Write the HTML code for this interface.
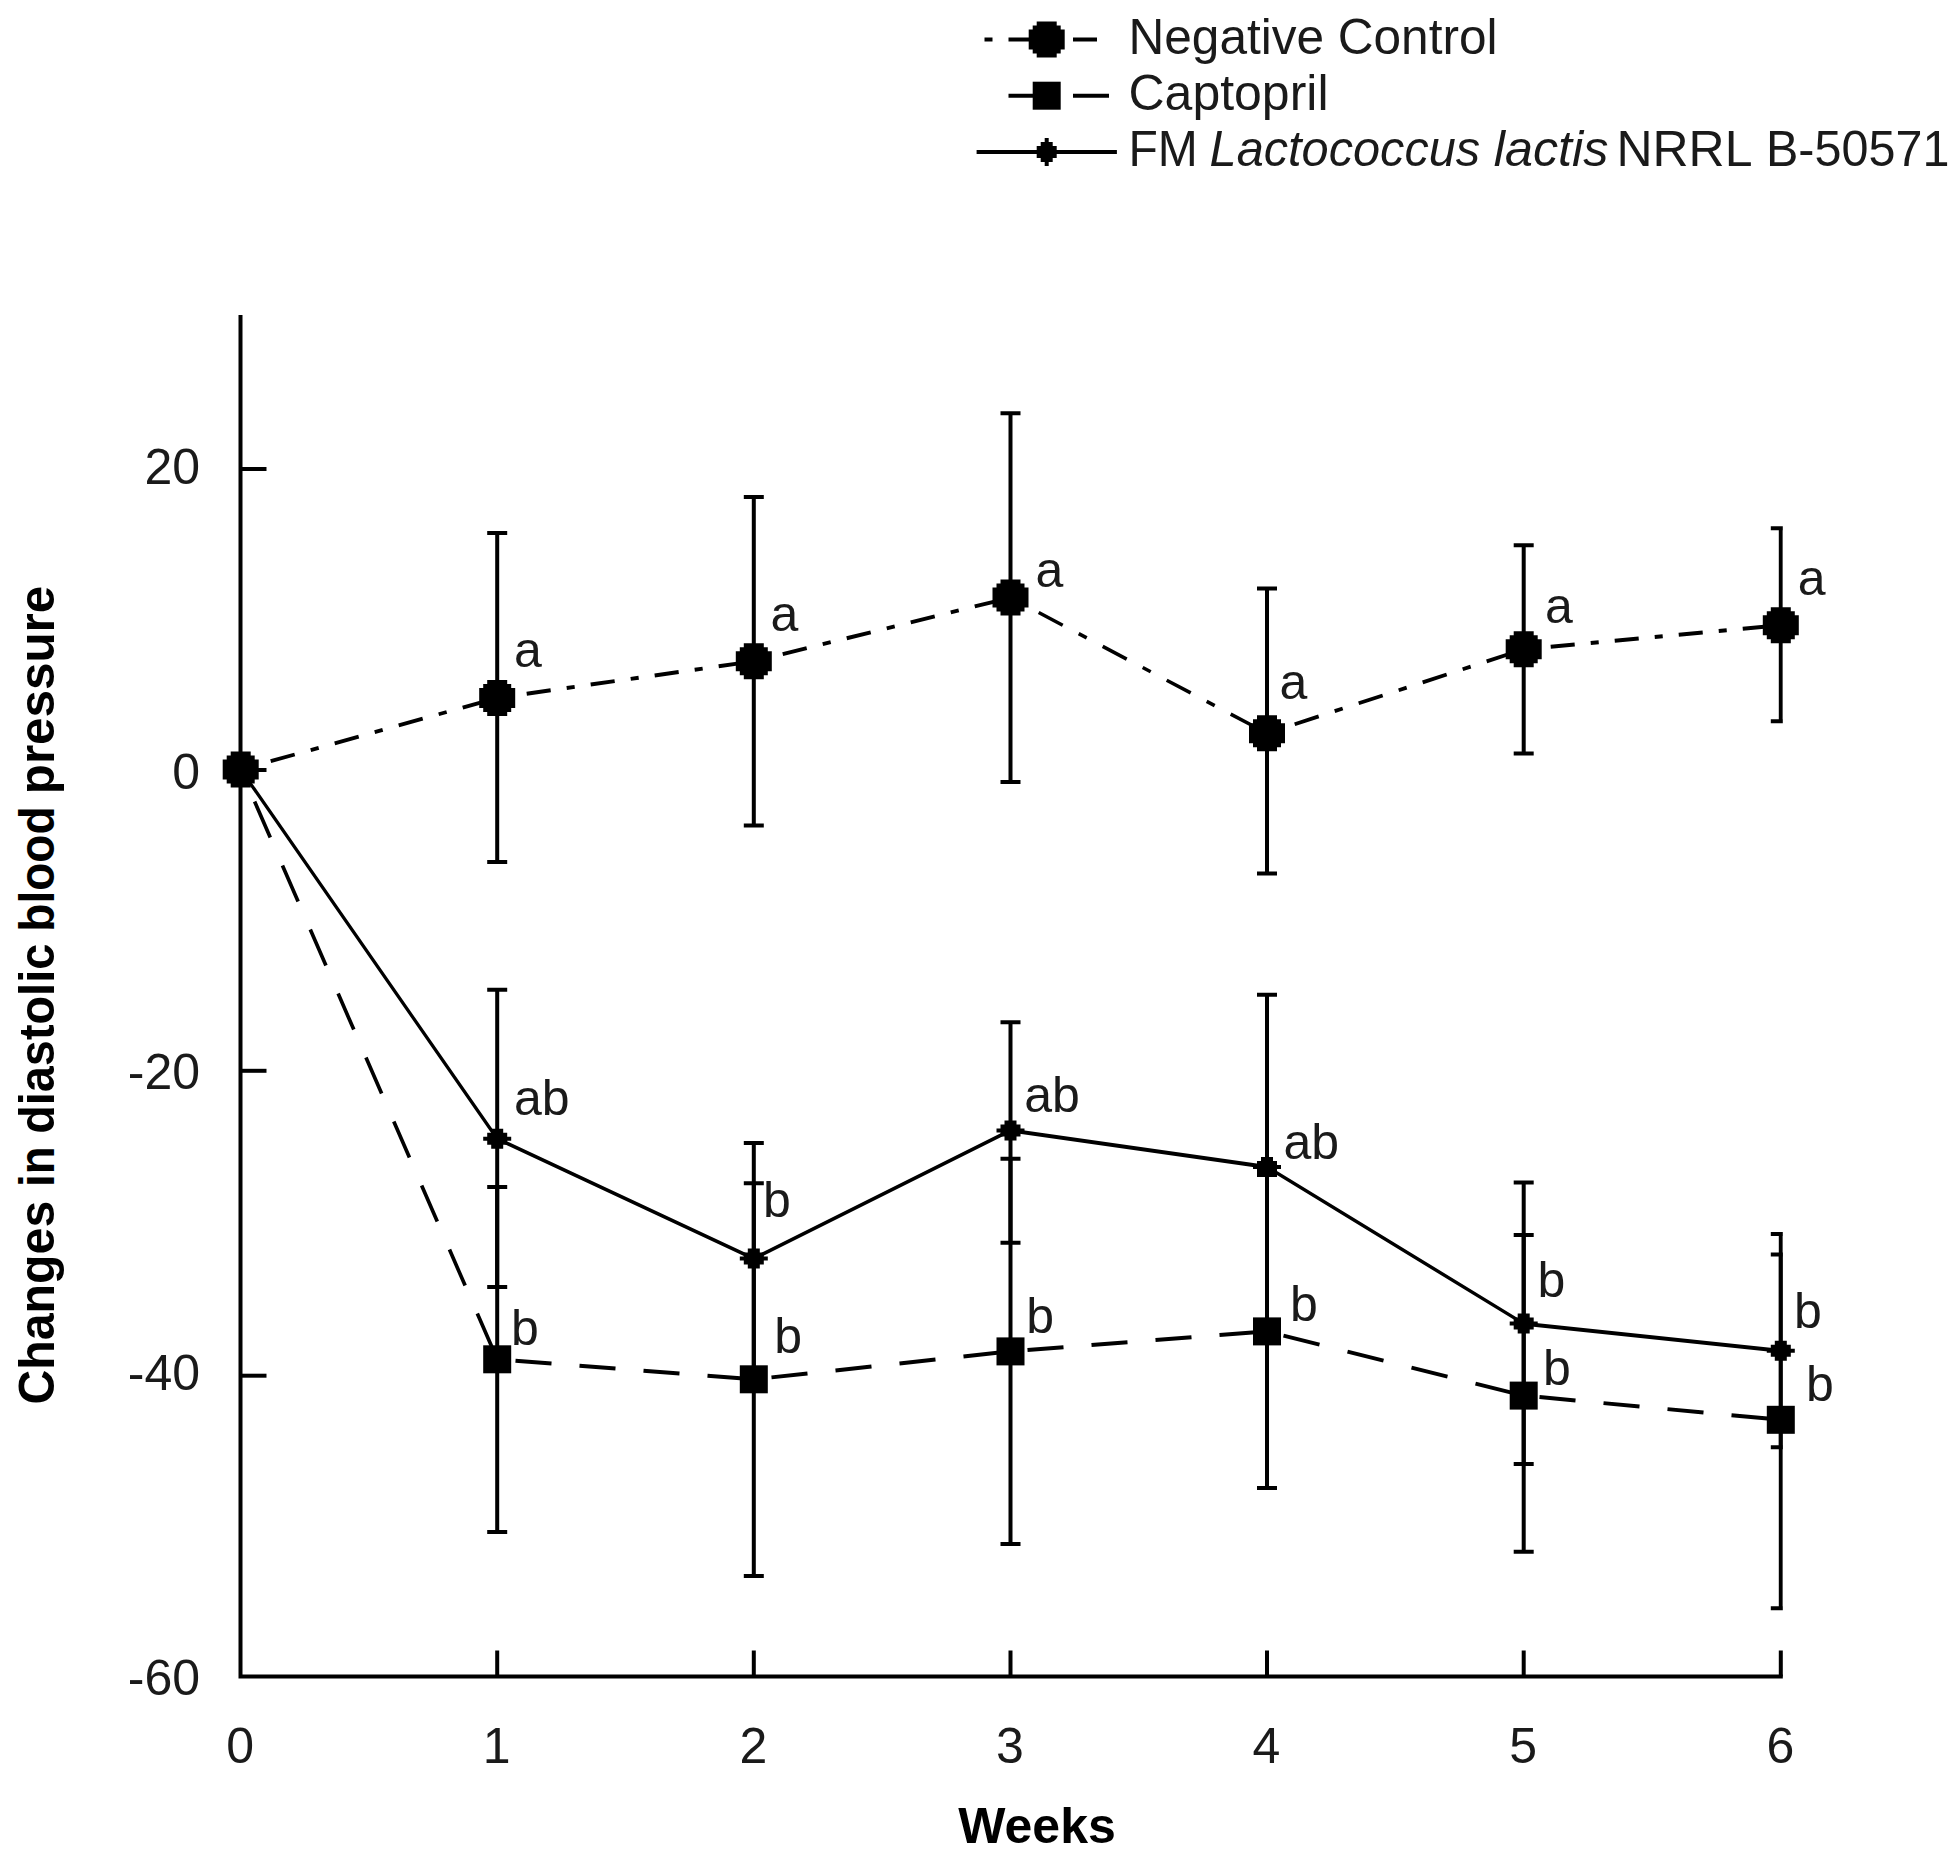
<!DOCTYPE html>
<html lang="en"><head><meta charset="utf-8"><title>Changes in diastolic blood pressure</title>
<style>
html,body{margin:0;padding:0;background:#fff;}
body{width:1960px;height:1856px;overflow:hidden;}
svg{display:block;}
text{font-family:"Liberation Sans",sans-serif;fill:#1a1a1a;}
.b{font-weight:bold;fill:#000;}
.i{font-style:italic;}
</style></head><body>
<svg width="1960" height="1856" viewBox="0 0 1960 1856">
<rect width="1960" height="1856" fill="#fff"/>
<defs><clipPath id="plot"><rect x="238.5" y="300" width="1544.3" height="1400"/></clipPath></defs>
<g stroke="#000" stroke-width="4" fill="none" stroke-linecap="butt">
<path d="M240.5 315.0 V1676.5 H1782.8"/>
<path d="M497.2 1676.5 v-26"/>
<path d="M753.8 1676.5 v-26"/>
<path d="M1010.5 1676.5 v-26"/>
<path d="M1267.0 1676.5 v-26"/>
<path d="M1523.7 1676.5 v-26"/>
<path d="M1780.8 1676.5 v-26"/>
<path d="M240.5 469.0 h26"/>
<path d="M240.5 770.0 h26"/>
<path d="M240.5 1070.8 h26"/>
<path d="M240.5 1375.7 h26"/>
</g>
<g stroke="#000" stroke-width="4" fill="none" clip-path="url(#plot)">
<path d="M497.2 533.0 V862.0 M487.2 533.0 h20 M487.2 862.0 h20"/>
<path d="M753.8 496.9 V825.4 M743.8 496.9 h20 M743.8 825.4 h20"/>
<path d="M1010.5 413.2 V782.0 M1000.5 413.2 h20 M1000.5 782.0 h20"/>
<path d="M1267.0 588.5 V873.6 M1257.0 588.5 h20 M1257.0 873.6 h20"/>
<path d="M1523.7 545.2 V753.4 M1513.7 545.2 h20 M1513.7 753.4 h20"/>
<path d="M1780.8 528.3 V721.3 M1770.8 528.3 h20 M1770.8 721.3 h20"/>
<path d="M497.2 1187.0 V1532.0 M487.2 1187.0 h20 M487.2 1532.0 h20"/>
<path d="M753.8 1183.2 V1576.1 M743.8 1183.2 h20 M743.8 1576.1 h20"/>
<path d="M1010.5 1158.7 V1544.1 M1000.5 1158.7 h20 M1000.5 1544.1 h20"/>
<path d="M1267.0 1174.9 V1487.9 M1257.0 1174.9 h20 M1257.0 1487.9 h20"/>
<path d="M1523.7 1235.0 V1551.7 M1513.7 1235.0 h20 M1513.7 1551.7 h20"/>
<path d="M1780.8 1233.9 V1608.3 M1770.8 1233.9 h20 M1770.8 1608.3 h20"/>
<path d="M497.2 989.8 V1286.9 M487.2 989.8 h20 M487.2 1286.9 h20"/>
<path d="M753.8 1142.9 V1374.3 M743.8 1142.9 h20 M743.8 1374.3 h20"/>
<path d="M1010.5 1022.2 V1242.8 M1000.5 1022.2 h20 M1000.5 1242.8 h20"/>
<path d="M1267.0 994.7 V1339.3 M1257.0 994.7 h20 M1257.0 1339.3 h20"/>
<path d="M1523.7 1182.6 V1463.9 M1513.7 1182.6 h20 M1513.7 1463.9 h20"/>
<path d="M1780.8 1254.6 V1447.3 M1770.8 1254.6 h20 M1770.8 1447.3 h20"/>
</g>
<g fill="none" stroke="#000">
<line x1="240.7" y1="769.6" x2="497.2" y2="1138.7" stroke-width="3.28" stroke-linecap="round"/>
<line x1="497.2" y1="1138.7" x2="753.8" y2="1258.6" stroke-width="3.62" stroke-linecap="round"/>
<line x1="753.8" y1="1258.6" x2="1010.5" y2="1130.4" stroke-width="3.58" stroke-linecap="round"/>
<line x1="1010.5" y1="1130.4" x2="1267.0" y2="1167.0" stroke-width="3.96" stroke-linecap="round"/>
<line x1="1267.0" y1="1167.0" x2="1523.7" y2="1323.6" stroke-width="3.41" stroke-linecap="round"/>
<line x1="1523.7" y1="1323.6" x2="1780.8" y2="1350.8" stroke-width="3.98" stroke-linecap="round"/>
<line x1="240.7" y1="769.6" x2="497.2" y2="1359.3" stroke-width="3.66803" stroke-dasharray="39.26 30.53" stroke-dashoffset="34.90"/>
<line x1="497.2" y1="1359.3" x2="753.8" y2="1379.3" stroke-width="3.98791" stroke-dasharray="36.11 28.08" stroke-dashoffset="45.84"/>
<line x1="753.8" y1="1379.3" x2="1010.5" y2="1351.4" stroke-width="3.97658" stroke-dasharray="36.21 28.16" stroke-dashoffset="46.57"/>
<line x1="1010.5" y1="1351.4" x2="1267.0" y2="1331.4" stroke-width="3.9879" stroke-dasharray="36.11 28.08" stroke-dashoffset="47.14"/>
<line x1="1267.0" y1="1331.4" x2="1523.7" y2="1395.6" stroke-width="3.88048" stroke-dasharray="37.11 28.86" stroke-dashoffset="48.96"/>
<line x1="1523.7" y1="1395.6" x2="1780.8" y2="1419.8" stroke-width="3.9824" stroke-dasharray="36.16 28.12" stroke-dashoffset="48.41"/>
<line x1="240.7" y1="769.6" x2="497.2" y2="697.9" stroke-width="3.85232" stroke-dasharray="24.92 16.61 8.31 16.61" stroke-dashoffset="35.30"/>
<line x1="497.2" y1="697.9" x2="753.8" y2="661.3" stroke-width="3.95992" stroke-dasharray="24.24 16.16 8.08 16.16" stroke-dashoffset="34.85"/>
<line x1="753.8" y1="661.3" x2="1010.5" y2="597.6" stroke-width="3.88225" stroke-dasharray="24.73 16.49 8.24 16.49" stroke-dashoffset="36.16"/>
<line x1="1010.5" y1="597.6" x2="1267.0" y2="733.3" stroke-width="3.53569" stroke-dasharray="27.15 18.10 9.05 18.10" stroke-dashoffset="40.50"/>
<line x1="1267.0" y1="733.3" x2="1523.7" y2="649.3" stroke-width="3.80164" stroke-dasharray="25.25 16.83 8.42 16.83" stroke-dashoffset="38.19"/>
<line x1="1523.7" y1="649.3" x2="1780.8" y2="625.2" stroke-width="3.98254" stroke-dasharray="24.11 16.07 8.04 16.07" stroke-dashoffset="37.16"/>
</g>
<g fill="#000">
<path d="M230.7 751.6 h20 v4 h4 v4 h4 v20 h-4 v4 h-4 v4 h-20 v-4 h-4 v-4 h-4 v-20 h4 v-4 h4z"/>
<path d="M487.2 679.9 h20 v4 h4 v4 h4 v20 h-4 v4 h-4 v4 h-20 v-4 h-4 v-4 h-4 v-20 h4 v-4 h4z"/>
<path d="M743.8 643.3 h20 v4 h4 v4 h4 v20 h-4 v4 h-4 v4 h-20 v-4 h-4 v-4 h-4 v-20 h4 v-4 h4z"/>
<path d="M1000.5 579.6 h20 v4 h4 v4 h4 v20 h-4 v4 h-4 v4 h-20 v-4 h-4 v-4 h-4 v-20 h4 v-4 h4z"/>
<path d="M1257.0 715.3 h20 v4 h4 v4 h4 v20 h-4 v4 h-4 v4 h-20 v-4 h-4 v-4 h-4 v-20 h4 v-4 h4z"/>
<path d="M1513.7 631.3 h20 v4 h4 v4 h4 v20 h-4 v4 h-4 v4 h-20 v-4 h-4 v-4 h-4 v-20 h4 v-4 h4z"/>
<path d="M1770.8 607.2 h20 v4 h4 v4 h4 v20 h-4 v4 h-4 v4 h-20 v-4 h-4 v-4 h-4 v-20 h4 v-4 h4z"/>
<rect x="483.2" y="1345.3" width="28" height="28"/>
<rect x="739.8" y="1365.3" width="28" height="28"/>
<rect x="996.5" y="1337.4" width="28" height="28"/>
<rect x="1253.0" y="1317.4" width="28" height="28"/>
<rect x="1509.7" y="1381.6" width="28" height="28"/>
<rect x="1766.8" y="1405.8" width="28" height="28"/>
<path d="M491.2 1128.7 h12 v4 h4 v4 h4 v4 h-4 v4 h-4 v4 h-12 v-4 h-4 v-4 h-4 v-4 h4 v-4 h4z"/>
<path d="M747.8 1248.6 h12 v4 h4 v4 h4 v4 h-4 v4 h-4 v4 h-12 v-4 h-4 v-4 h-4 v-4 h4 v-4 h4z"/>
<path d="M1004.5 1120.4 h12 v4 h4 v4 h4 v4 h-4 v4 h-4 v4 h-12 v-4 h-4 v-4 h-4 v-4 h4 v-4 h4z"/>
<path d="M1261.0 1157.0 h12 v4 h4 v4 h4 v4 h-4 v4 h-4 v4 h-12 v-4 h-4 v-4 h-4 v-4 h4 v-4 h4z"/>
<path d="M1517.7 1313.6 h12 v4 h4 v4 h4 v4 h-4 v4 h-4 v4 h-12 v-4 h-4 v-4 h-4 v-4 h4 v-4 h4z"/>
<path d="M1774.8 1340.8 h12 v4 h4 v4 h4 v4 h-4 v4 h-4 v4 h-12 v-4 h-4 v-4 h-4 v-4 h4 v-4 h4z"/>
</g>
<g font-size="50">
<text x="200" y="483.5" text-anchor="end">20</text>
<text x="200" y="788.5" text-anchor="end">0</text>
<text x="200" y="1089.2" text-anchor="end">-20</text>
<text x="200" y="1390.1" text-anchor="end">-40</text>
<text x="200" y="1694.9" text-anchor="end">-60</text>
<text x="240.2" y="1763" text-anchor="middle">0</text>
<text x="496.7" y="1763" text-anchor="middle">1</text>
<text x="753.3" y="1763" text-anchor="middle">2</text>
<text x="1010.0" y="1763" text-anchor="middle">3</text>
<text x="1266.5" y="1763" text-anchor="middle">4</text>
<text x="1523.2" y="1763" text-anchor="middle">5</text>
<text x="1780.3" y="1763" text-anchor="middle">6</text>
<text x="514.0" y="667.0">a</text>
<text x="770.5" y="631.0">a</text>
<text x="1035.6" y="587.0">a</text>
<text x="1279.6" y="699.0">a</text>
<text x="1545.0" y="623.0">a</text>
<text x="1797.7" y="595.0">a</text>
<text x="514.0" y="1115.0">ab</text>
<text x="763.0" y="1217.0">b</text>
<text x="1024.3" y="1112.0">ab</text>
<text x="1283.4" y="1159.0">ab</text>
<text x="1537.5" y="1297.0">b</text>
<text x="1794.0" y="1328.0">b</text>
<text x="511.0" y="1345.0">b</text>
<text x="774.3" y="1353.0">b</text>
<text x="1026.2" y="1333.0">b</text>
<text x="1290.0" y="1321.0">b</text>
<text x="1543.0" y="1385.0">b</text>
<text x="1806.0" y="1401.0">b</text>
</g>
<text class="b" font-size="50" x="1037" y="1843" text-anchor="middle">Weeks</text>
<text class="b" font-size="50" transform="translate(54 1402.1) rotate(-90)"><tspan x="-2.5" textLength="203.9" lengthAdjust="spacingAndGlyphs">Changes</tspan> <tspan x="215.2" textLength="40.3" lengthAdjust="spacingAndGlyphs">in</tspan> <tspan x="268.3" textLength="190.0" lengthAdjust="spacingAndGlyphs">diastolic</tspan> <tspan x="470.4" textLength="125.2" lengthAdjust="spacingAndGlyphs">blood</tspan> <tspan x="607.9" textLength="208.4" lengthAdjust="spacingAndGlyphs">pressure</tspan></text>
<g stroke="#000" stroke-width="4" fill="none">
<path d="M984.5 39.5 h8 M1008.5 39.5 h24 M1073 39.5 h24"/>
<path d="M1008.5 95.7 h28 M1073 95.7 h36"/>
<path d="M976.6 152 h140.3"/>
</g>
<g fill="#000">
<path d="M1036.7 21.5 h20 v4 h4 v4 h4 v20 h-4 v4 h-4 v4 h-20 v-4 h-4 v-4 h-4 v-20 h4 v-4 h4z"/>
<rect x="1032.7" y="81.7" width="28" height="28"/>
<path d="M1044.7 138 h4 v4 h4 v4 h4 v12 h-4 v4 h-4 v4 h-4 v-4 h-4 v-4 h-4 v-12 h4 v-4 h4z"/>
</g>
<g font-size="50">
<text x="1128.5" y="54" textLength="369" lengthAdjust="spacingAndGlyphs">Negative Control</text>
<text x="1128.5" y="109.5" textLength="200" lengthAdjust="spacingAndGlyphs">Captopril</text>
<text y="165.5"><tspan x="1128.4" textLength="69.4" lengthAdjust="spacingAndGlyphs">FM</tspan> <tspan x="1209.6" textLength="270.6" lengthAdjust="spacingAndGlyphs" class="i">Lactococcus</tspan> <tspan x="1493.8" textLength="114.6" lengthAdjust="spacingAndGlyphs" class="i">lactis</tspan> <tspan x="1616.4" textLength="134.2" lengthAdjust="spacingAndGlyphs">NRRL</tspan> <tspan x="1766.0" textLength="183.4" lengthAdjust="spacingAndGlyphs">B-50571</tspan></text>
</g>
</svg></body></html>
